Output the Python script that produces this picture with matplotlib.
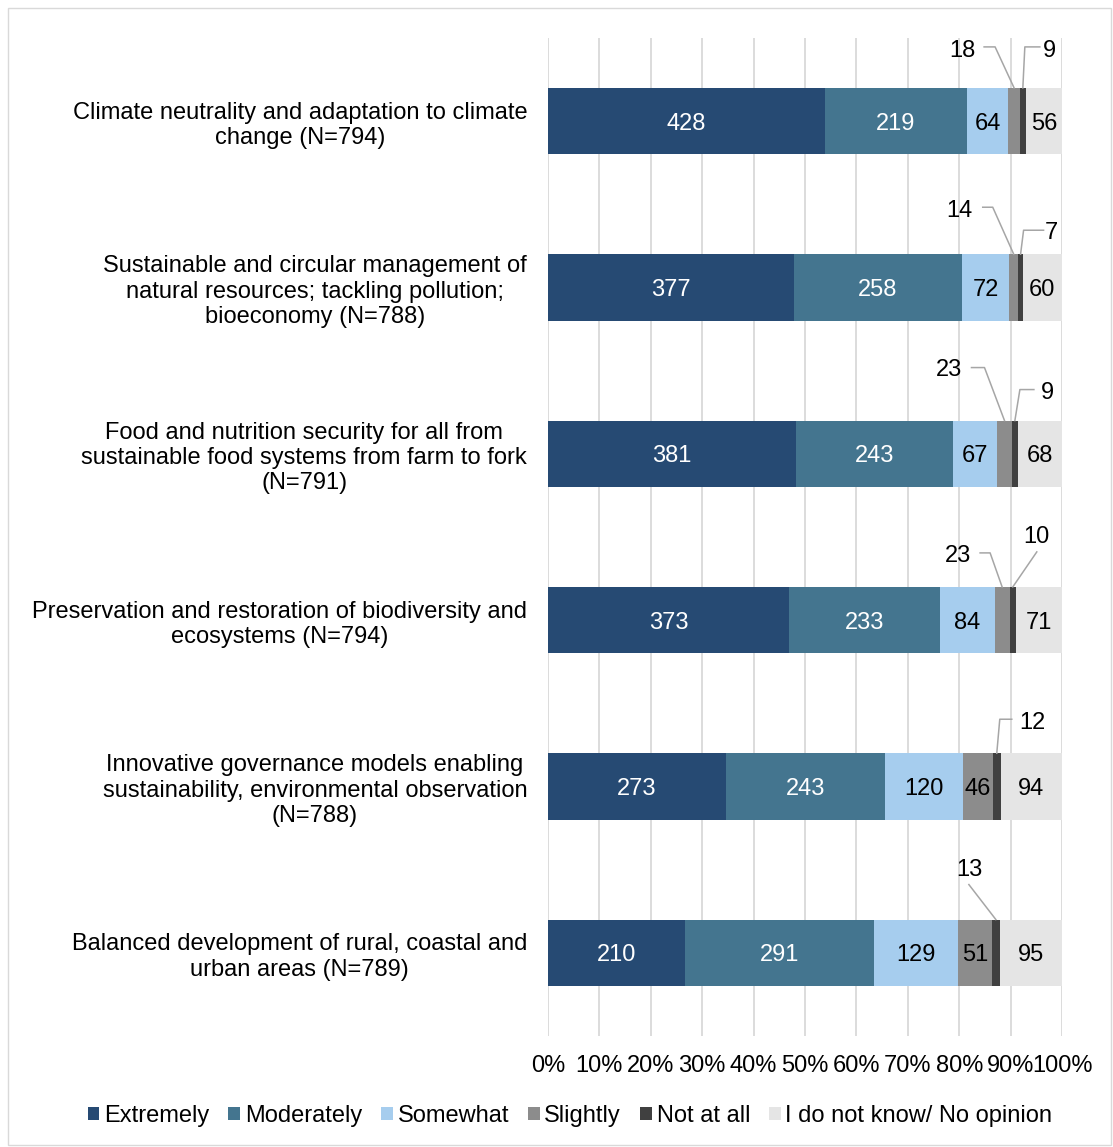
import matplotlib
matplotlib.use("Agg")
import matplotlib.pyplot as plt
from matplotlib.patches import Rectangle
import numpy as np

plt.rcParams['font.family'] = ['Liberation Sans', 'DejaVu Sans']
plt.rcParams['font.size'] = 17

categories = [
    "Climate neutrality and adaptation to climate\nchange (N=794)",
    "Sustainable and circular management of\nnatural resources; tackling pollution;\nbioeconomy (N=788)",
    "Food and nutrition security for all from\nsustainable food systems from farm to fork\n(N=791)",
    "Preservation and restoration of biodiversity and\necosystems (N=794)",
    "Innovative governance models enabling\nsustainability, environmental observation\n(N=788)",
    "Balanced development of rural, coastal and\nurban areas (N=789)",
]
series_names = ["Extremely", "Moderately", "Somewhat", "Slightly",
                "Not at all", "I do not know/ No opinion"]
extremely = [428, 377, 381, 373, 273, 210]
moderately = [219, 258, 243, 233, 243, 291]
somewhat = [64, 72, 67, 84, 120, 129]
slightly = [18, 14, 23, 23, 46, 51]
not_at_all = [9, 7, 9, 10, 12, 13]
no_opinion = [56, 60, 68, 71, 94, 95]
tick_labels = ["0%", "10%", "20%", "30%", "40%", "50%", "60%", "70%", "80%", "90%", "100%"]

colors = ["#264a73", "#44758f", "#a6cdee", "#8c8c8c", "#404040", "#e5e5e5"]
text_colors = ["white", "white", "black", "black", "black", "black"]

# small segments labelled outside: (row, series, text offset px, leader points px)
callouts = [
    (0, 3, (-52, -39), [(-30, -41), (-19, -41)]),
    (0, 4, (27, -39), [(17, -41), (2, -41)]),
    (1, 3, (-54, -46), [(-31, -47), (-21, -47)]),
    (1, 4, (31, -24), [(23, -24), (3, -24)]),
    (2, 3, (-55, -53), [(-33, -53), (-20, -53)]),
    (2, 4, (33, -30), [(19, -31), (5, -31)]),
    (3, 3, (-44, -33), [(-22, -34), (-12, -34)]),
    (3, 4, (24, -52), [(24, -35)]),
    (4, 4, (36, -33), [(15, -34), (3, -34)]),
    (5, 4, (-27, -52), [(-27, -35)]),
]

data = np.array([extremely, moderately, somewhat, slightly, not_at_all, no_opinion], dtype=float)
totals = data.sum(axis=0)
pct = data / totals * 100
y = np.arange(len(categories))
bar_h = 0.4

fig = plt.figure(figsize=(11.13, 11.47), dpi=100)
ax = fig.add_axes([548 / 1113, 1 - 1036 / 1147, 514 / 1113, 998 / 1147])

left = np.zeros(len(categories))
bars = []
for k in range(len(series_names)):
    b = ax.barh(y, pct[k], left=left, height=bar_h, color=colors[k],
                label=series_names[k], zorder=3)
    bars.append(b)
    left = left + pct[k]

ax.set_xlim(0, 100)
ax.set_ylim(len(categories) - 0.5, -0.5)
ax.set_xticks(np.arange(0, 101, 10))
ax.set_xticklabels(tick_labels)
ax.set_yticks(y)
ax.set_yticklabels(categories, multialignment='center')
ax.tick_params(axis='both', length=0, labelsize=17)
ax.tick_params(axis='y', pad=15)
ax.tick_params(axis='x', pad=14)
ax.grid(axis='x', color='#d9d9d9', linewidth=1.3, zorder=0)
for s in ax.spines.values():
    s.set_visible(False)

outside = {(r, k) for r, k, _, _ in callouts}

# value labels inside the segments
cum = np.vstack([np.zeros(len(categories)), np.cumsum(pct, axis=0)])
for k in range(len(series_names)):
    for r in range(len(categories)):
        if (r, k) in outside:
            continue
        xc = (cum[k, r] + cum[k + 1, r]) / 2
        ax.text(xc, y[r], f"{int(data[k, r])}", ha='center', va='center_baseline',
                color=text_colors[k], fontsize=17, zorder=4)

# callout labels with leader lines
to_disp = ax.transData
to_data = ax.transData.inverted()
for r, k, (tx, ty), pts in callouts:
    xc = (cum[k, r] + cum[k + 1, r]) / 2
    ax_, ay_ = to_disp.transform((xc, y[r] - bar_h / 2))
    path = [(ax_ + px, ay_ - py) for px, py in pts] + [(ax_, ay_)]
    path_data = to_data.transform(path)
    ax.plot(path_data[:, 0], path_data[:, 1], color='#a6a6a6', linewidth=1.1,
            zorder=5, clip_on=False)
    lx, ly = to_data.transform((ax_ + tx, ay_ - ty))
    ax.text(lx, ly, f"{int(data[k, r])}", ha='center', va='center_baseline',
            fontsize=17, zorder=5, clip_on=False)

fig.legend(handles=bars, labels=series_names, loc='center',
           bbox_to_anchor=(570 / 1113, 1 - 1116 / 1147), ncol=6, frameon=False,
           fontsize=17, handlelength=0.5, handleheight=0.5, handletextpad=0.2,
           columnspacing=0.8)

fig.patches.append(Rectangle((8 / 1113, 2 / 1147), 1103 / 1113, 1137 / 1147,
                             transform=fig.transFigure, fill=False,
                             edgecolor='#d9d9d9', linewidth=1.0))

fig.savefig("out.png", dpi=100)
